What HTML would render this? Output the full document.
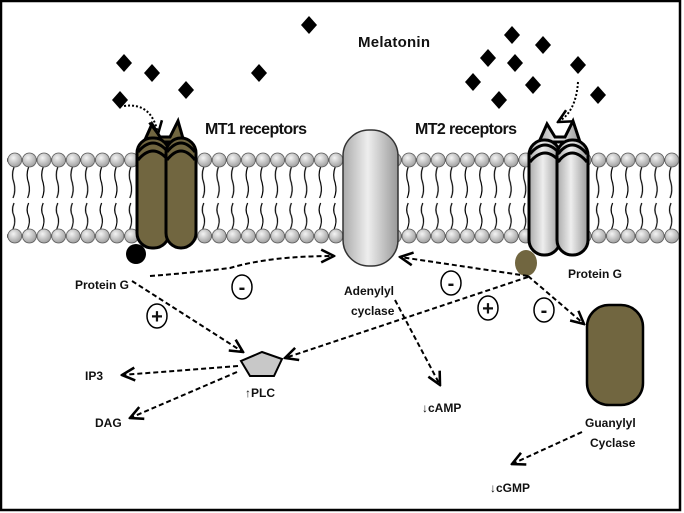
<!DOCTYPE html>
<html><head><meta charset="utf-8"><style>
html,body{margin:0;padding:0;background:#fff}
svg{display:block}
text{font-family:"Liberation Sans",sans-serif;font-weight:bold;fill:#111}
</style></head><body>
<svg width="684" height="513" viewBox="0 0 684 513" xmlns="http://www.w3.org/2000/svg">
<defs>
<radialGradient id="hd" cx="40%" cy="35%" r="70%"><stop offset="0" stop-color="#f4f4f4"/><stop offset="1" stop-color="#9a9a9a"/></radialGradient>
<linearGradient id="gr" x1="0" x2="1"><stop offset="0" stop-color="#aaa"/><stop offset="0.45" stop-color="#eee"/><stop offset="1" stop-color="#999"/></linearGradient>
<marker id="ar" viewBox="0 0 10 10" refX="9" refY="5" markerWidth="8" markerHeight="8" orient="auto"><path d="M1,1 L9,5 L1,9" fill="none" stroke="#000" stroke-width="1.6"/></marker>
<pattern id="tails" x="8" y="0" width="14.6" height="513" patternUnits="userSpaceOnUse">
<path d="M6,167 q-3,8 0,16 q2,8 -1,15 M6,203 q-3,7 0,13 q2,6 -1,13" fill="none" stroke="#000" stroke-width="1.2"/>
</pattern>
<pattern id="heads" x="7.5" y="0" width="14.6" height="513" patternUnits="userSpaceOnUse">
<circle cx="7.3" cy="160" r="7" fill="url(#hd)" stroke="#555" stroke-width="0.8"/>
<circle cx="7.3" cy="236" r="7" fill="url(#hd)" stroke="#555" stroke-width="0.8"/>
</pattern>
<polygon id="d" points="0,-9 8,0 0,9 -8,0" fill="#000"/>
</defs>
<rect x="1" y="1" width="679" height="509" fill="#fff" stroke="#000" stroke-width="2.5"/>
<!-- membrane -->
<rect x="6" y="164" width="670" height="68" fill="url(#tails)"/>
<rect x="7" y="150" width="672" height="96" fill="url(#heads)"/>
<!-- diamonds -->
<use href="#d" x="309" y="25"/><use href="#d" x="124" y="63"/><use href="#d" x="152" y="73"/>
<use href="#d" x="186" y="90"/><use href="#d" x="120" y="100"/><use href="#d" x="259" y="73"/>
<use href="#d" x="512" y="35"/><use href="#d" x="543" y="45"/><use href="#d" x="488" y="58"/>
<use href="#d" x="515" y="63"/><use href="#d" x="473" y="82"/><use href="#d" x="533" y="85"/>
<use href="#d" x="499" y="100"/><use href="#d" x="578" y="65"/><use href="#d" x="598" y="95"/>
<text x="358" y="47" font-size="15" textLength="72">Melatonin</text>
<text x="205" y="134" font-size="16" textLength="102">MT1 receptors</text>
<text x="415" y="134" font-size="16" textLength="102">MT2 receptors</text>
<!-- MT1 -->
<g stroke="#000" stroke-width="3" fill="#716640">
<path d="M144,142 L152,124 L160,137 L170,137 L178,121 L184,142 Z"/>
<rect x="137" y="138" width="32" height="110" rx="15"/>
<rect x="166" y="138" width="30" height="110" rx="15"/>
<path d="M138,160 q15,-18 30,0 M138,152 q15,-18 30,0 M167,160 q14,-18 28,0 M167,152 q14,-18 28,0" fill="none"/>
</g>
<circle cx="136" cy="254" r="10" fill="#000"/>
<!-- MT2 -->
<g stroke="#000" stroke-width="3" fill="url(#gr)">
<path d="M539,142 L547,124 L555,137 L565,137 L573,121 L580,142 Z"/>
<rect x="529" y="140" width="31" height="115" rx="15"/>
<rect x="557" y="140" width="31" height="115" rx="15"/>
<path d="M530,162 q15,-18 30,0 M530,154 q15,-18 30,0 M558,162 q14,-18 29,0 M558,154 q14,-18 29,0" fill="none"/>
</g>
<ellipse cx="526" cy="263" rx="11" ry="13" fill="#716640"/>
<!-- Adenylyl cyclase -->
<rect x="343" y="130" width="55" height="136" rx="26" fill="url(#gr)" stroke="#333" stroke-width="1.5"/>
<!-- Guanylyl cyclase -->
<rect x="587" y="305" width="56" height="100" rx="22" fill="#716640" stroke="#000" stroke-width="2.5"/>
<!-- PLC -->
<polygon points="262,352 282,359 274,376 250,376 241,361" fill="#c8c8c8" stroke="#000" stroke-width="2"/>
<!-- arrows -->
<g fill="none" stroke="#000" stroke-width="2" stroke-dasharray="5,3" marker-end="url(#ar)">
<path d="M124,106 q28,-4 34,28" stroke-dasharray="2,2"/>
<path d="M578,82 q-2,30 -20,40" stroke-dasharray="2,2"/>
<path d="M150,276 q40,-3 80,-8 q40,-12 104,-12"/>
<path d="M132,281 L243,352"/>
<path d="M528,277 L285,358"/>
<path d="M528,276 L400,257"/>
<path d="M528,276 L584,324"/>
<path d="M395,300 L440,385"/>
<path d="M238,366 L122,375"/>
<path d="M237,372 L130,418"/>
<path d="M582,432 L512,464"/>
</g>
<!-- sign circles -->
<g fill="#fff" stroke="#000" stroke-width="1.5">
<ellipse cx="242" cy="287" rx="10" ry="12"/>
<ellipse cx="157" cy="316" rx="10" ry="12"/>
<ellipse cx="451" cy="283" rx="10" ry="12"/>
<ellipse cx="488" cy="308" rx="10" ry="12"/>
<ellipse cx="544" cy="310" rx="10" ry="12"/>
</g>
<g font-size="20" text-anchor="middle">
<text x="242" y="294">-</text><text x="157" y="323">+</text><text x="451" y="290">-</text><text x="488" y="315">+</text><text x="544" y="317">-</text>
</g>
<g font-size="12">
<text x="75" y="289">Protein G</text>
<text x="568" y="278">Protein G</text>
<text x="344" y="295">Adenylyl</text>
<text x="351" y="315">cyclase</text>
<text x="85" y="380">IP3</text>
<text x="95" y="427">DAG</text>
<text x="245" y="397">↑PLC</text>
<text x="422" y="412">↓cAMP</text>
<text x="585" y="427">Guanylyl</text>
<text x="590" y="447">Cyclase</text>
<text x="490" y="492">↓cGMP</text>
</g>
</svg>
</body></html>
